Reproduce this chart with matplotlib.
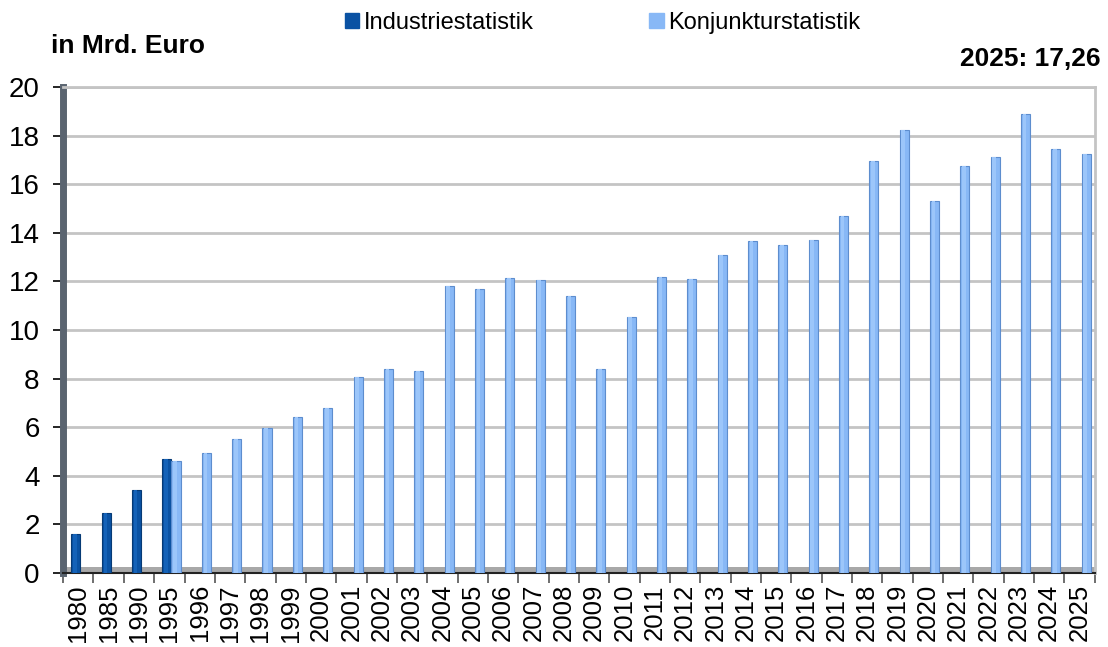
import numpy as np
import matplotlib.pyplot as plt
from matplotlib.patches import Patch

plt.rcParams['font.family'] = ['Liberation Sans', 'DejaVu Sans']

# Data
years = ['1980', '1985', '1990', '1995'] + [str(y) for y in range(1996, 2026)]
industrie = [1.6, 2.45, 3.4, 4.7] + [None] * 30
konjunktur = [None, None, None, 4.6,
              4.95, 5.5, 5.95, 6.4, 6.8, 8.05, 8.4, 8.3, 11.8, 11.7,
              12.15, 12.05, 11.4, 8.4, 10.55, 12.2, 12.1, 13.1, 13.65, 13.5,
              13.7, 14.7, 16.95, 18.25, 15.3, 16.75, 17.1, 18.9, 17.45, 17.26]

ind = np.array([np.nan if v is None else v for v in industrie])
konj = np.array([np.nan if v is None else v for v in konjunktur])
x = np.arange(len(years))

fig = plt.figure(figsize=(11.08, 6.47), dpi=100)
ax = fig.add_axes([0.057, 0.1144, 0.931, 0.7511])

dark = '#0a52a3'
light = '#88b8f6'

# back wall grid and floor
for yv in range(2, 21, 2):
    ax.axhline(yv, color='#c4c4c4', lw=2, zorder=0)
ax.axhspan(0, 0.25, color='#a8a8a8', zorder=1, lw=0)

# bars with a simple cylinder-like shading
ax.bar(x - 0.08, ind, width=0.3, color=dark, edgecolor='#063a75', lw=0.8, zorder=3)
ax.bar(x - 0.11, ind, width=0.12, color='#1462b8', lw=0, zorder=4)
ax.bar(x + 0.22, konj, width=0.3, color=light, edgecolor='#5d8dce', lw=0.8, zorder=3)
ax.bar(x + 0.19, konj, width=0.12, color='#9cc6fa', lw=0, zorder=4)

ax.set_xlim(-0.5, len(years) - 0.5)
ax.set_ylim(0, 20)
ax.set_yticks(range(0, 21, 2))
ax.set_xticks(x)
ax.set_xticklabels(years, rotation=90, fontsize=18.5)
ax.tick_params(axis='y', labelsize=20, length=7, width=1.2, pad=10)
ax.tick_params(axis='x', length=0, pad=8)
ax.set_xticks(np.arange(-0.5, len(years)), minor=True)
ax.tick_params(axis='x', which='minor', length=7, width=1.2, color='#555555')

ax.spines['left'].set_color('#5a6470')
ax.spines['left'].set_linewidth(5)
ax.spines['bottom'].set_color('#222222')
ax.spines['bottom'].set_linewidth(1.5)
ax.spines['top'].set_color('#c4c4c4')
ax.spines['top'].set_linewidth(2)
ax.spines['right'].set_color('#c4c4c4')
ax.spines['right'].set_linewidth(2)

fig.text(0.046, 0.91, 'in Mrd. Euro', fontsize=19, fontweight='bold', ha='left', va='bottom')
fig.text(0.993, 0.89, '2025: 17,26', fontsize=19, fontweight='bold', ha='right', va='bottom')

handles = [Patch(color=dark, label='Industriestatistik'),
           Patch(color=light, label='Konjunkturstatistik')]
fig.legend(handles=handles, loc='upper center', bbox_to_anchor=(0.544, 1.015), ncol=2,
           frameon=False, fontsize=17, handlelength=0.6, handleheight=0.6,
           handletextpad=0.2, columnspacing=4.9)

fig.savefig('out.png', dpi=100)
